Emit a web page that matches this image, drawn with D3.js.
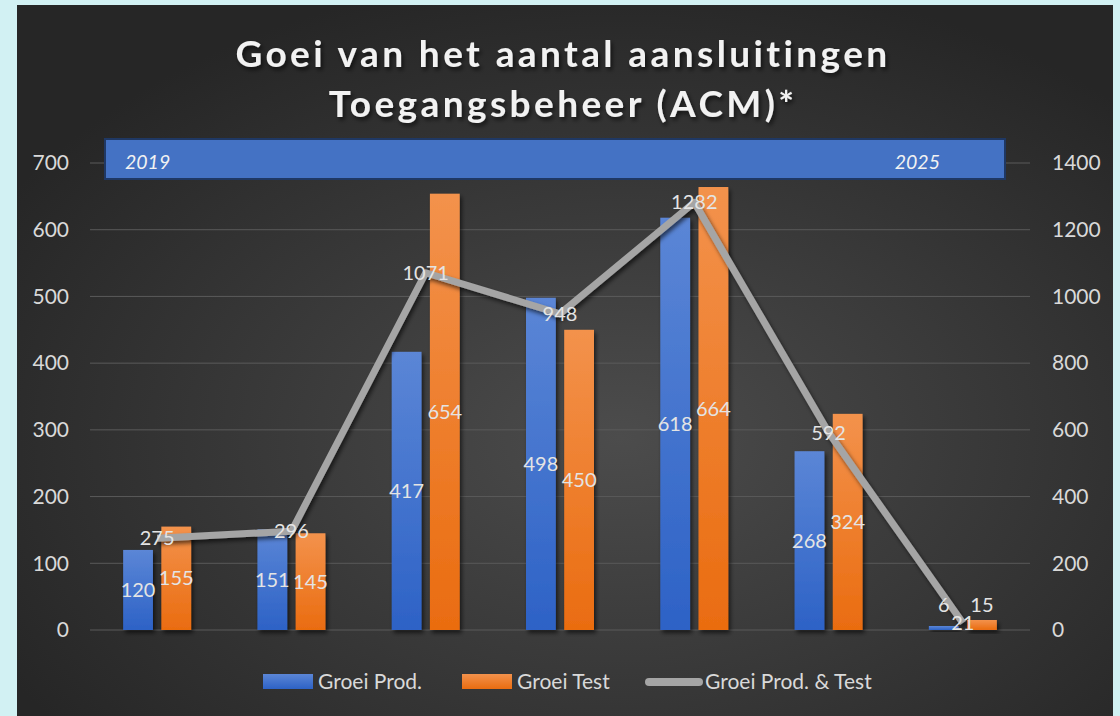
<!DOCTYPE html>
<html lang="nl">
<head>
<meta charset="utf-8">
<title>Groei aansluitingen</title>
<script src="https://cdn.jsdelivr.net/npm/d3@7"></script>
<style>
  body { margin: 0; background: #d2f1f3; }
  svg { display: block; font-family: Lato, "Open Sans", sans-serif; }
  .tick-label { fill: #d9d9d9; font-size: 21px; font-family: Lato, "Open Sans", sans-serif; }
  .data-label { fill: #e4e4e4; font-size: 20px; }
  .legend-text { fill: #d9d9d9; font-size: 21px; }
</style>
</head>
<body>
<svg width="1120" height="716"></svg>
<script>
// chart data
var periods = ["P1", "P2", "P3", "P4", "P5", "P6", "P7"];
var groeiProd = [120, 151, 417, 498, 618, 268, 6];
var groeiTest = [155, 145, 654, 450, 664, 324, 15];
var groeiTotaal = [275, 296, 1071, 948, 1282, 592, 21];
var leftTicks = [0, 100, 200, 300, 400, 500, 600, 700];
var rightTicks = [0, 200, 400, 600, 800, 1000, 1200, 1400];
var bannerYears = ["2019", "2025"];
var titleLines = ["Goei van het aantal aansluitingen", "Toegangsbeheer (ACM)*"];
var seriesNames = ["Groei Prod.", "Groei Test", "Groei Prod. & Test"];

var svg = d3.select("svg");
var defs = svg.append("defs");

// background gradient
var bg = defs.append("radialGradient").attr("id", "bgGrad")
   .attr("cx", "55%").attr("cy", "60%").attr("r", "65%");
bg.append("stop").attr("offset", "0%").attr("stop-color", "#4c4c4c");
bg.append("stop").attr("offset", "100%").attr("stop-color", "#262626");

var blueGrad = defs.append("linearGradient").attr("id", "blueGrad")
   .attr("x1", 0).attr("y1", 0).attr("x2", 0).attr("y2", 1);
blueGrad.append("stop").attr("offset", "0%").attr("stop-color", "#5b86d6");
blueGrad.append("stop").attr("offset", "100%").attr("stop-color", "#2d62c6");

var orangeGrad = defs.append("linearGradient").attr("id", "orangeGrad")
   .attr("x1", 0).attr("y1", 0).attr("x2", 0).attr("y2", 1);
orangeGrad.append("stop").attr("offset", "0%").attr("stop-color", "#f3924c");
orangeGrad.append("stop").attr("offset", "100%").attr("stop-color", "#ea6c10");

var shadow = defs.append("filter").attr("id", "shadow")
   .attr("x", "-10%").attr("y", "-10%").attr("width", "130%").attr("height", "140%");
shadow.append("feDropShadow").attr("dx", 2).attr("dy", 3).attr("stdDeviation", 2)
   .attr("flood-color", "#000").attr("flood-opacity", 0.6);

svg.append("rect")
   .attr("x", 17).attr("y", 5).attr("width", 1096).attr("height", 720)
   .attr("fill", "url(#bgGrad)");

// title
svg.append("g").selectAll("text")
   .data(titleLines)
   .enter().append("text")
   .attr("x", 563)
   .attr("y", function(d, i) { return 67 + i * 50; })
   .attr("text-anchor", "middle")
   .attr("fill", "#f2f2f2")
   .attr("font-size", "37px")
   .attr("font-weight", "bold")
   .attr("letter-spacing", "3.4px")
   .attr("filter", "url(#shadow)")
   .text(function(d) { return d; });

// scales
var plotLeft = 90, plotRight = 1030, plotTop = 163, plotBottom = 630;
var x0 = d3.scaleBand().domain(periods).range([plotLeft, plotRight]);
var x1 = d3.scaleBand().domain([0, 1]).range([-34, 34]).paddingInner(0.22);
var yL = d3.scaleLinear().domain([0, 700]).range([plotBottom, plotTop]);
var yR = d3.scaleLinear().domain([0, 1400]).range([plotBottom, plotTop]);

// grid
svg.append("g").selectAll("line")
   .data(leftTicks)
   .enter().append("line")
   .attr("x1", plotLeft).attr("x2", plotRight)
   .attr("y1", function(d) { return yL(d); })
   .attr("y2", function(d) { return yL(d); })
   .attr("stroke", "#5a5a5a").attr("stroke-width", 1);

// axes labels
var axisL = svg.append("g").attr("transform", "translate(" + plotLeft + ",0)")
   .call(d3.axisLeft(yL).tickValues(leftTicks).tickFormat(d3.format("d")).tickSize(0).tickPadding(21));
var axisR = svg.append("g").attr("transform", "translate(" + plotRight + ",0)")
   .call(d3.axisRight(yR).tickValues(rightTicks).tickFormat(d3.format("d")).tickSize(0).tickPadding(22));
[axisL, axisR].forEach(function(a) {
   a.attr("font-family", null).attr("font-size", null);
   a.select(".domain").remove();
   a.selectAll("text").attr("class", "tick-label").attr("fill", null);
});

// banner
svg.append("rect")
   .attr("x", 105).attr("y", 139).attr("width", 900).attr("height", 40)
   .attr("fill", "#4472c4").attr("stroke", "#1f3864").attr("stroke-width", 2);
svg.append("g").selectAll("text")
   .data(bannerYears)
   .enter().append("text")
   .attr("x", function(d, i) { return i === 0 ? 125 : 940; })
   .attr("y", 169)
   .attr("text-anchor", function(d, i) { return i === 0 ? "start" : "end"; })
   .attr("font-style", "italic")
   .attr("font-size", "19.5px")
   .attr("fill", "#f2f2f2")
   .text(function(d) { return d; });

// bars
var series = [
   { values: groeiProd, fill: "url(#blueGrad)" },
   { values: groeiTest, fill: "url(#orangeGrad)" }
];
series.forEach(function(s, si) {
   var g = svg.append("g");
   g.selectAll("rect")
      .data(s.values)
      .enter().append("rect")
      .attr("x", function(d, i) { return x0(periods[i]) + x0.bandwidth() / 2 + x1(si); })
      .attr("y", function(d) { return yL(d); })
      .attr("width", x1.bandwidth())
      .attr("height", function(d) { return yL(0) - yL(d); })
      .attr("fill", s.fill)
      .attr("filter", "url(#shadow)");
});

// line
var line = d3.line()
   .x(function(d, i) { return x0(periods[i]) + x0.bandwidth() / 2; })
   .y(function(d) { return yR(d); });
svg.append("path")
   .datum(groeiTotaal)
   .attr("d", line)
   .attr("fill", "none")
   .attr("stroke", "#a5a5a5")
   .attr("stroke-width", 7)
   .attr("stroke-linejoin", "round")
   .attr("filter", "url(#shadow)");

// bar labels
series.forEach(function(s, si) {
   svg.append("g").selectAll("text")
      .data(s.values)
      .enter().append("text")
      .attr("class", "data-label")
      .attr("x", function(d, i) { return x0(periods[i]) + x0.bandwidth() / 2 + x1(si) + x1.bandwidth() / 2; })
      .attr("y", function(d) { return Math.min((yL(d) + yL(0)) / 2, yL(0) - 25); })
      .attr("dy", "0.35em")
      .attr("text-anchor", "middle")
      .text(function(d) { return d; });
});

// line labels
svg.append("g").selectAll("text")
   .data(groeiTotaal)
   .enter().append("text")
   .attr("class", "data-label")
   .attr("x", function(d, i) { return x0(periods[i]) + x0.bandwidth() / 2; })
   .attr("y", function(d) { return yR(d); })
   .attr("dy", "0.35em")
   .attr("text-anchor", "middle")
   .text(function(d) { return d; });

// legend
var legendX = [263, 462, 645];
var legend = svg.append("g");
seriesNames.forEach(function(name, i) {
   if (i < 2) {
      legend.append("rect")
         .attr("x", legendX[i]).attr("y", 674).attr("width", 50).attr("height", 15)
         .attr("fill", series[i].fill);
   } else {
      legend.append("line")
         .attr("x1", legendX[i] + 4).attr("x2", legendX[i] + 54)
         .attr("y1", 682).attr("y2", 682)
         .attr("stroke", "#a5a5a5").attr("stroke-width", 8).attr("stroke-linecap", "round");
   }
   legend.append("text")
      .attr("class", "legend-text")
      .attr("x", legendX[i] + (i < 2 ? 55 : 60)).attr("y", 682)
      .attr("dy", "0.35em")
      .text(name);
});
</script>
</body>
</html>
